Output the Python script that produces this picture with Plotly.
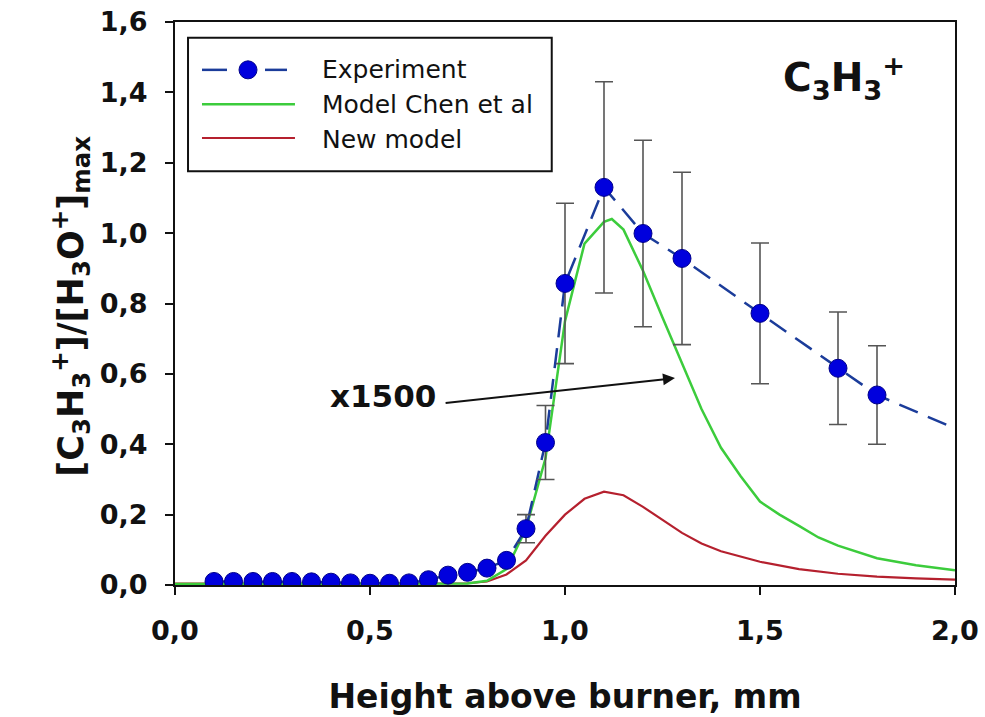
import plotly.graph_objects as go

# ---- data ----
exp_x = [0.10, 0.15, 0.20, 0.25, 0.30, 0.35, 0.40, 0.45, 0.50, 0.55, 0.60, 0.65,
         0.70, 0.75, 0.80, 0.85, 0.90, 0.95, 1.00, 1.10, 1.20, 1.30, 1.50, 1.70, 1.80]
exp_y = [0.010, 0.010, 0.010, 0.010, 0.010, 0.009, 0.008, 0.006, 0.005, 0.005, 0.006, 0.015,
         0.028, 0.036, 0.048, 0.070, 0.160, 0.405, 0.857, 1.130, 0.999, 0.928, 0.772, 0.616, 0.540]
exp_err = [0, 0, 0, 0, 0, 0, 0, 0, 0, 0, 0, 0,
           0, 0, 0, 0, 0.04, 0.105, 0.228, 0.300, 0.265, 0.245, 0.200, 0.160, 0.140]
exp_tail_x = [2.0]
exp_tail_y = [0.445]

chen_x = [0.0, 0.5, 0.75, 0.80, 0.85, 0.90, 0.95, 1.00, 1.05, 1.10, 1.12, 1.15, 1.20,
          1.25, 1.30, 1.35, 1.40, 1.45, 1.50, 1.55, 1.60, 1.65, 1.70, 1.80, 1.90, 2.00]
chen_y = [0.003, 0.003, 0.004, 0.012, 0.045, 0.160, 0.360, 0.750, 0.970, 1.032, 1.040, 1.010, 0.893,
          0.760, 0.630, 0.500, 0.390, 0.310, 0.237, 0.200, 0.168, 0.135, 0.112, 0.076, 0.056, 0.042]

new_x = [0.0, 0.5, 0.75, 0.80, 0.85, 0.90, 0.95, 1.00, 1.05, 1.10, 1.15, 1.20, 1.25,
         1.30, 1.35, 1.40, 1.50, 1.60, 1.70, 1.80, 1.90, 2.00]
new_y = [0.004, 0.004, 0.005, 0.010, 0.030, 0.070, 0.140, 0.200, 0.245, 0.265, 0.255, 0.222, 0.184,
         0.148, 0.118, 0.096, 0.066, 0.045, 0.032, 0.024, 0.019, 0.015]

x_ticks = [0.0, 0.5, 1.0, 1.5, 2.0]
y_ticks = [0.0, 0.2, 0.4, 0.6, 0.8, 1.0, 1.2, 1.4, 1.6]

legend_labels = ["Experiment", "Model Chen et al", "New model"]

FONT = "DejaVu Sans, Verdana, sans-serif"
INK = "#111111"
BLUE_LINE = "#1b3c9a"
BLUE_MARK = "#0000dd"
GREEN = "#3ccc3c"
RED = "#b5202e"

fig = go.Figure()

fig.add_trace(go.Scatter(x=new_x, y=new_y, mode="lines",
                         line=dict(color=RED, width=2.2), showlegend=False))
fig.add_trace(go.Scatter(x=chen_x, y=chen_y, mode="lines",
                         line=dict(color=GREEN, width=2.5), showlegend=False))
fig.add_trace(go.Scatter(x=exp_x + exp_tail_x, y=exp_y + exp_tail_y, mode="lines",
                         line=dict(color=BLUE_LINE, width=2.5, dash="20px,11px"),
                         showlegend=False))
fig.add_trace(go.Scatter(x=exp_x, y=exp_y, mode="markers",
                         marker=dict(size=18, color=BLUE_MARK,
                                     line=dict(color="#00008b", width=1)),
                         error_y=dict(type="data", array=exp_err, visible=True,
                                      color="#555555", thickness=1.6, width=9),
                         showlegend=False))

# x1500 arrow + label
fig.add_annotation(x=1.282, y=0.588, ax=0.69, ay=0.517, xref="x", yref="y",
                   axref="x", ayref="y", text="", showarrow=True,
                   arrowhead=2, arrowsize=1.2, arrowwidth=2, arrowcolor=INK)
fig.add_annotation(x=0.533, y=0.537, xref="x", yref="y", text="<b>x1500</b>",
                   showarrow=False, font=dict(family=FONT, size=31, color=INK))

# species label
fig.add_annotation(x=0.858, y=0.90, xref="paper", yref="paper",
                   xanchor="center", yanchor="middle",
                   text="<b>C<sub>3</sub>H<sub>3</sub><sup>+</sup></b>", showarrow=False,
                   font=dict(family=FONT, size=39, color=INK))

# y-axis title (as rotated annotation for exact placement)
fig.add_annotation(x=-0.134, y=0.495, xref="paper", yref="paper",
                   xanchor="center", yanchor="middle", textangle=-90,
                   text="<b>[C<sub>3</sub>H<sub>3</sub><sup>+</sup>]/[H<sub>3</sub>O<sup>+</sup>]<sub>max</sub></b>",
                   showarrow=False, font=dict(family=FONT, size=35, color=INK))

# manual legend
shapes = [
    dict(type="rect", xref="paper", yref="paper", x0=0.0167, x1=0.483, y0=0.735, y1=0.972,
         line=dict(color=INK, width=2), fillcolor="white", layer="above"),
    dict(type="line", xref="paper", yref="paper", x0=0.0346, x1=0.0667, y0=0.915, y1=0.915,
         line=dict(color=BLUE_LINE, width=2.5)),
    dict(type="line", xref="paper", yref="paper", x0=0.1154, x1=0.1436, y0=0.915, y1=0.915,
         line=dict(color=BLUE_LINE, width=2.5)),
    dict(type="circle", xref="paper", yref="paper", xsizemode="pixel", ysizemode="pixel",
         xanchor=0.0936, yanchor=0.915, x0=-9, x1=9, y0=-9, y1=9,
         fillcolor=BLUE_MARK, line=dict(color="#00008b", width=1)),
    dict(type="line", xref="paper", yref="paper", x0=0.0346, x1=0.1538, y0=0.854, y1=0.854,
         line=dict(color=GREEN, width=2.5)),
    dict(type="line", xref="paper", yref="paper", x0=0.0346, x1=0.1538, y0=0.794, y1=0.794,
         line=dict(color=RED, width=2.2)),
]
for lab, yy in zip(legend_labels, [0.915, 0.854, 0.792]):
    fig.add_annotation(x=0.186, y=yy, xref="paper", yref="paper", text=lab,
                       xanchor="left", yanchor="middle", showarrow=False,
                       font=dict(family=FONT, size=25, color=INK))

fig.update_layout(
    width=985, height=717,
    margin=dict(l=175, r=30, t=22, b=132, autoexpand=False),
    plot_bgcolor="white", paper_bgcolor="white",
    separators=",.",
    shapes=shapes,
    showlegend=False,
    hovermode=False,
    font=dict(family=FONT, color=INK),
)
fig.update_xaxes(range=[0, 2.0], tickvals=x_ticks, tickformat=".1f",
                 ticks="outside", ticklen=8, tickwidth=2, tickcolor=INK,
                 showline=True, linecolor=INK, linewidth=2, mirror=True,
                 showgrid=False, zeroline=False, ticklabeloverflow="allow",
                 tickfont=dict(family=FONT, size=27, color=INK, weight="bold"),
                 ticklabelstandoff=13,
                 title=dict(text="<b>Height above burner, mm</b>", standoff=39,
                            font=dict(family=FONT, size=33, color=INK)))
fig.update_yaxes(range=[0, 1.6], tickvals=y_ticks, tickformat=".1f",
                 ticks="outside", ticklen=8, tickwidth=2, tickcolor=INK,
                 showline=True, linecolor=INK, linewidth=2, mirror=True,
                 showgrid=False, zeroline=False, ticklabeloverflow="allow",
                 tickfont=dict(family=FONT, size=27, color=INK, weight="bold"),
                 ticklabelstandoff=12)

fig.write_html("out.html", config={"displayModeBar": False},
               post_script="document.body.style.margin='0';document.body.style.overflow='hidden';")
